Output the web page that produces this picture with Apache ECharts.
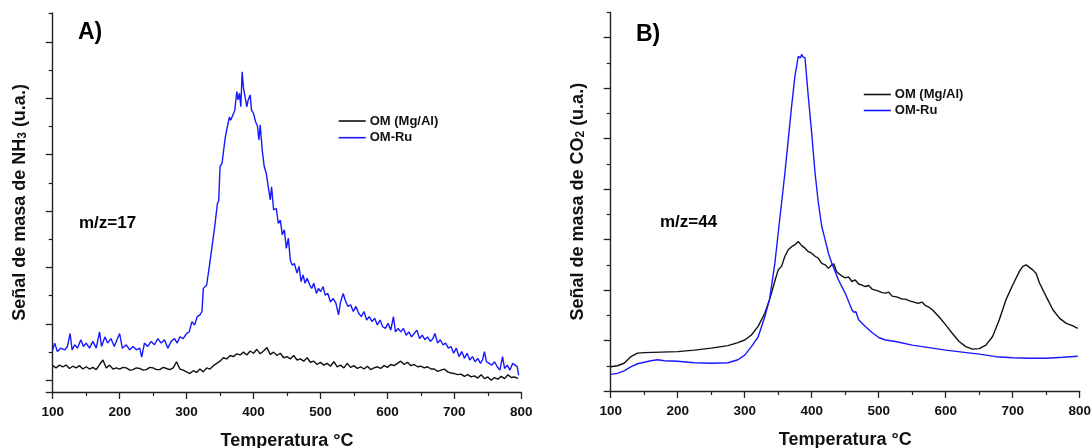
<!DOCTYPE html>
<html>
<head>
<meta charset="utf-8">
<script src="https://cdn.jsdelivr.net/npm/echarts@6/dist/echarts.min.js"></script>
<style>
html,body{margin:0;padding:0;background:#fff;}
#chart{width:1091px;height:448px;}
</style>
</head>
<body>
<div id="chart"></div>
<script>
// ---------- DATA ----------
const seriesNames = ['OM (Mg/Al)', 'OM-Ru'];
const xTicks = [100, 200, 300, 400, 500, 600, 700, 800];

// Panel A (m/z=17, NH3) - OM (Mg/Al)
const aOmTemp = [100,105,110,115,120,125,130,135,140,145,150,155,160,165,170,175,180,185,190,195,200,205,210,215,220,225,230,235,240,245,250,255,260,265,270,275,280,285,290,295,300,305,310,315,320,325,330,335,340,345,350,355,360,365,370,375,380,385,390,395,400,405,410,415,420,425,430,435,440,445,450,455,460,465,470,475,480,485,490,495,500,505,510,515,520,525,530,535,540,545,550,555,560,565,570,575,580,585,590,595,600,605,610,615,620,625,630,635,640,645,650,655,660,665,670,675,680,685,690,695,700,705,710,715,720,725,730,735,740,745,750,755,760,765,770,775,780,785,790,795];
const aOmSig = [.26,.22,.27,.24,.27,.21,.25,.22,.26,.20,.24,.20,.23,.19,.28,.36,.22,.27,.20,.22,.20,.23,.22,.18,.19,.22,.21,.18,.19,.23,.22,.19,.19,.23,.21,.19,.22,.33,.20,.18,.15,.12,.17,.14,.20,.15,.22,.20,.26,.30,.34,.40,.38,.44,.42,.47,.45,.50,.45,.52,.48,.55,.47,.52,.58,.46,.50,.44,.48,.40,.42,.38,.44,.36,.38,.34,.40,.32,.34,.28,.32,.27,.30,.25,.33,.24,.27,.22,.30,.23,.26,.21,.24,.20,.25,.19,.22,.24,.21,.26,.23,.28,.26,.30,.34,.28,.32,.26,.28,.24,.25,.22,.24,.20,.20,.16,.18,.20,.15,.13,.12,.10,.11,.07,.10,.06,.08,.04,.10,.03,.06,.00,.05,.02,.07,.03,.10,.05,.06,.03];

// Panel A - OM-Ru
const aRuTemp = [100,103,107,112,118,122,126,129,133,137,142,146,150,155,160,165,170,173,178,182,187,192,196,200,204,210,215,220,225,230,233,237,242,247,252,257,262,267,272,277,282,286,290,295,300,304,308,312,316,320,323,325,330,334,338,342,346,348,350,353,356,358,361,364,366,369,372,375,377,379,381,383,385,387,390,392,395,397,400,403,406,408,410,413,416,419,422,425,427,430,434,437,440,443,446,449,452,455,458,461,465,468,471,474,477,480,484,487,490,494,497,500,504,507,511,515,519,523,527,530,534,537,541,545,549,553,557,561,565,569,573,577,581,585,589,593,597,601,605,609,612,616,620,624,628,632,636,640,644,648,652,656,660,664,668,671,675,679,683,687,691,695,699,703,707,711,715,719,723,727,731,735,739,742,745,748,752,756,760,764,768,772,775,779,783,787,791,794,796];
const aRuSig = [.54,.66,.51,.57,.54,.60,.83,.54,.63,.57,.72,.60,.66,.57,.69,.57,.86,.60,.77,.66,.74,.60,.72,.83,.57,.63,.54,.60,.54,.57,.41,.66,.60,.69,.63,.74,.66,.72,.57,.69,.74,.66,.77,.74,.83,.86,1.04,.98,1.13,1.16,1.22,1.63,1.69,2.02,2.37,2.72,3.13,3.19,3.79,3.85,4.14,4.32,4.50,4.67,4.61,4.70,4.79,5.12,4.97,5.09,4.85,5.47,5.18,5.15,4.85,4.97,5.06,4.79,4.73,4.59,4.50,4.26,4.53,4.08,3.79,3.67,3.43,3.20,3.43,3.02,3.05,2.78,2.84,2.58,2.67,2.34,2.52,2.13,2.04,2.07,1.90,2.02,1.75,1.87,1.72,1.81,1.69,1.63,1.72,1.54,1.63,1.57,1.66,1.51,1.54,1.39,1.45,1.37,1.16,1.39,1.54,1.42,1.31,1.34,1.22,1.31,1.19,1.13,1.22,1.07,1.13,1.04,1.10,.98,1.07,.95,.92,1.01,.89,1.13,.86,.92,.86,.92,.80,.86,.77,.83,.89,.74,.80,.72,.77,.69,.74,.83,.66,.72,.63,.66,.57,.60,.48,.57,.42,.51,.39,.48,.36,.42,.33,.39,.30,.36,.51,.33,.30,.27,.33,.24,.18,.42,.21,.27,.18,.30,.27,.24,.09];

// Panel B (m/z=44, CO2) - OM (Mg/Al)
const bOmTemp = [100,110,120,130,140,150,175,200,225,250,275,290,300,310,320,330,337,340,345,350,355,360,365,370,375,380,385,390,395,400,405,410,415,420,425,430,433,437,440,445,450,455,460,465,470,475,480,485,490,495,500,505,510,515,520,525,530,535,540,545,550,555,560,565,570,575,580,590,600,610,620,630,640,650,660,670,680,690,700,710,715,720,725,730,735,740,750,760,770,780,790,797];
const bOmSig = [.48,.50,.55,.68,.75,.76,.77,.78,.81,.85,.90,.96,1.01,1.11,1.28,1.54,1.81,1.94,2.18,2.40,2.47,2.67,2.80,2.86,2.90,2.96,2.88,2.83,2.76,2.73,2.67,2.63,2.53,2.50,2.43,2.50,2.52,2.37,2.33,2.28,2.24,2.26,2.17,2.20,2.12,2.10,2.07,2.09,2.02,2.00,1.98,1.95,1.94,1.96,1.88,1.87,1.85,1.82,1.82,1.79,1.77,1.75,1.74,1.76,1.69,1.66,1.61,1.47,1.31,1.14,.98,.88,.83,.84,.91,1.08,1.41,1.81,2.10,2.37,2.47,2.50,2.45,2.40,2.33,2.14,1.87,1.61,1.44,1.34,1.29,1.24];

// Panel B - OM-Ru
const bRuTemp = [100,110,120,130,140,150,160,170,180,200,225,250,275,290,300,310,320,330,337,345,350,355,360,365,370,375,380,383,385,387,390,395,400,405,410,415,420,425,430,440,450,460,463,466,470,480,490,500,510,525,550,575,600,625,650,675,700,725,750,775,797];
const bRuSig = [.33,.35,.40,.48,.54,.57,.60,.62,.60,.59,.56,.55,.56,.62,.71,.88,1.07,1.47,1.81,2.53,3.13,3.72,4.32,4.98,5.64,6.24,6.63,6.60,6.67,6.62,6.60,5.82,5.11,4.32,3.72,3.26,3.00,2.73,2.53,2.20,1.94,1.61,1.56,1.57,1.41,1.28,1.16,1.06,1.01,.98,.91,.86,.81,.77,.73,.68,.66,.65,.65,.67,.69];

// y-axis extents (in tick units) and tick positions
const aYMin = -0.207, aYMax = 6.512;
const aMajor = [-0.207, 0, 1, 2, 3, 4, 5, 6];
const aMinor = [0.5, 1.5, 2.5, 3.5, 4.5, 5.5, 6.5];
const bYMin = 0, bYMax = 7.5;
const bMajor = [0, 1, 2, 3, 4, 5, 6, 7];
const bMinor = [0.5, 1.5, 2.5, 3.5, 4.5, 5.5, 6.5, 7.5];

// ---------- CHART ----------
const zip = (t, v) => t.map((x, i) => [x, v[i]]);
const FONT = "'Liberation Sans', Arial, sans-serif";
const BLACK = '#111111';
const BLUE = '#1818ff';
const AX = '#222222';

function xAxisFor(g) {
  return {
    gridIndex: g, type: 'value', min: 100, max: 800, interval: 100,
    axisLine: { show: true, onZero: false, lineStyle: { color: AX, width: 1.4 } },
    axisTick: { show: true, length: 7, lineStyle: { color: AX, width: 1.3 } },
    minorTick: { show: true, splitNumber: 2, length: 4, lineStyle: { color: AX, width: 1.2 } },
    axisLabel: { fontFamily: FONT, fontWeight: 'bold', fontSize: 13.5, color: '#111', margin: 13,
      customValues: xTicks },
    splitLine: { show: false },
    name: 'Temperatura °C', nameLocation: 'middle', nameGap: 40,
    nameTextStyle: { fontFamily: FONT, fontWeight: 'bold', fontSize: 18, color: '#111' }
  };
}
function yMain(g, mn, mx, ticks, gas, sub) {
  return {
    gridIndex: g, type: 'value', min: mn, max: mx,
    axisLine: { show: true, onZero: false, lineStyle: { color: AX, width: 1.4 } },
    axisTick: { show: true, length: 7, customValues: ticks, lineStyle: { color: AX, width: 1.3 } },
    axisLabel: { show: false },
    splitLine: { show: false },
    name: '{n|Señal de masa de ' + gas + '}{s|' + sub + '}{n| (u.a.)}',
    nameLocation: 'middle', nameGap: 24,
    nameTextStyle: {
      fontFamily: FONT, fontWeight: 'bold', fontSize: 18, color: '#111',
      rich: {
        n: { fontFamily: FONT, fontWeight: 'bold', fontSize: 18, color: '#111', lineHeight: 18, verticalAlign: 'top' },
        s: { fontFamily: FONT, fontWeight: 'bold', fontSize: 12, color: '#111', lineHeight: 12, verticalAlign: 'bottom', padding: [8, 0, 0, 0] }
      }
    }
  };
}
function yMinor(g, mn, mx, ticks) {
  return {
    gridIndex: g, type: 'value', min: mn, max: mx, position: 'left', offset: 0,
    axisLine: { show: false, onZero: false },
    axisTick: { show: true, length: 4, customValues: ticks, lineStyle: { color: AX, width: 1.2 } },
    axisLabel: { show: false },
    splitLine: { show: false }
  };
}
function line(name, xi, yi, data, color) {
  return {
    name: name, type: 'line', xAxisIndex: xi, yAxisIndex: yi, data: data,
    showSymbol: false, symbol: 'none', smooth: false,
    lineStyle: { color: color, width: 1.4 }, itemStyle: { color: color },
    emphasis: { disabled: true }, silent: true
  };
}
function legendAt(left, top, gap) {
  return {
    left: left, top: top, padding: 0, orient: 'vertical', data: seriesNames, icon: 'rect',
    itemWidth: 27, itemHeight: 1.6, itemGap: gap, selectedMode: false,
    textStyle: { fontFamily: FONT, fontWeight: 'bold', fontSize: 13, color: '#111', padding: [0, 0, 0, -1] }
  };
}
function label(text, left, cy, size) {
  return {
    type: 'text', left: left, top: cy - size / 2,
    style: { text: text, fontFamily: FONT, fontWeight: 'bold', fontSize: size, fill: '#000' }
  };
}

const chart = echarts.init(document.getElementById('chart'), null, { renderer: 'canvas' });
chart.setOption({
  animation: false,
  backgroundColor: '#ffffff',
  grid: [
    { left: 52.7, top: 13, width: 468.6, height: 379, containLabel: false, outerBoundsMode: 'none' },
    { left: 610.7, top: 12.5, width: 469, height: 378.5, containLabel: false, outerBoundsMode: 'none' }
  ],
  xAxis: [xAxisFor(0), xAxisFor(1)],
  yAxis: [
    yMain(0, aYMin, aYMax, aMajor, 'NH', '3'),
    yMinor(0, aYMin, aYMax, aMinor),
    yMain(1, bYMin, bYMax, bMajor, 'CO', '2'),
    yMinor(1, bYMin, bYMax, bMinor)
  ],
  legend: [legendAt(338.7, 114.5, 3.7), legendAt(863.8, 88, 3)],
  graphic: [
    label('A)', 78, 33, 23),
    label('B)', 636, 35, 23),
    label('m/z=17', 79, 223, 17),
    label('m/z=44', 660, 222, 17)
  ],
  series: [
    line(seriesNames[0], 0, 0, zip(aOmTemp, aOmSig), BLACK),
    line(seriesNames[1], 0, 0, zip(aRuTemp, aRuSig), BLUE),
    line(seriesNames[0], 1, 2, zip(bOmTemp, bOmSig), BLACK),
    line(seriesNames[1], 1, 2, zip(bRuTemp, bRuSig), BLUE)
  ]
});
</script>
</body>
</html>
